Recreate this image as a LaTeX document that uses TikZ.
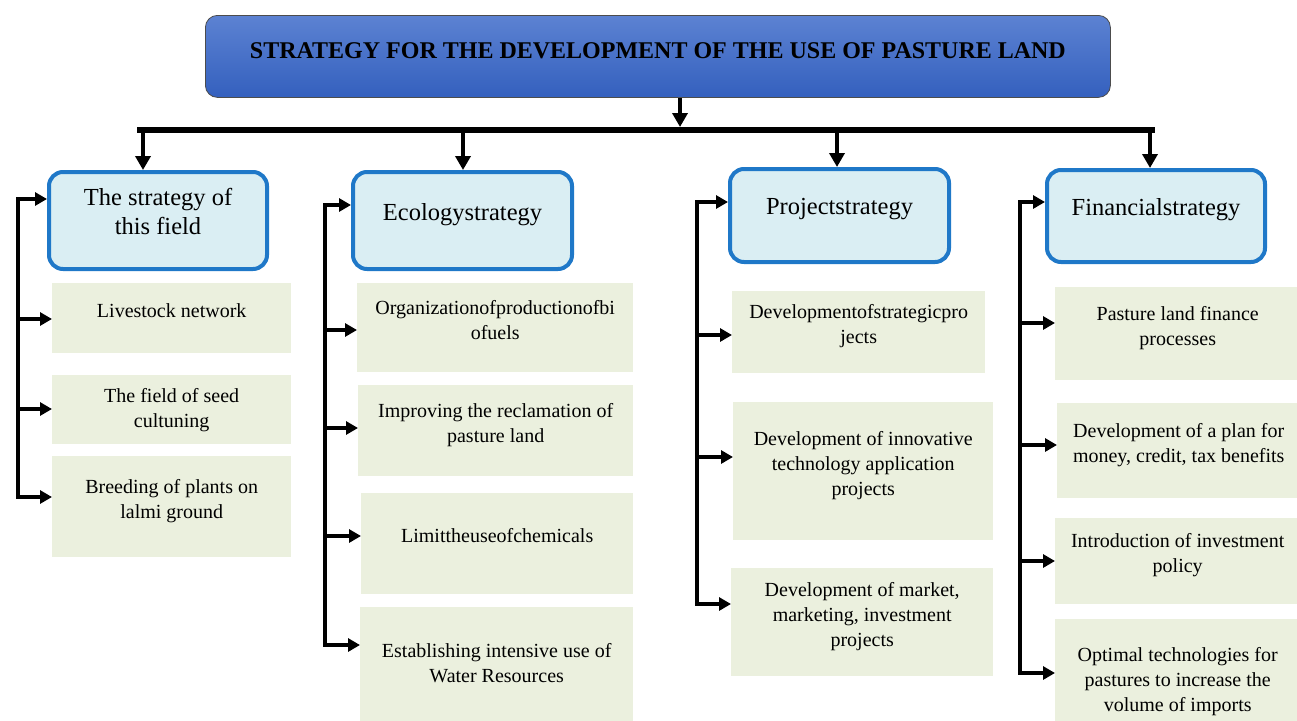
\documentclass[tikz,border=0pt]{standalone}
\usepackage{fontspec}
\setmainfont{Liberation Serif}
\usetikzlibrary{arrows.meta}
\definecolor{catblue}{RGB}{31,120,200}
\definecolor{catfill}{RGB}{218,238,243}
\definecolor{itemfill}{RGB}{235,240,222}
\definecolor{topA}{RGB}{92,130,210}
\definecolor{topB}{RGB}{52,96,190}
\def\tdp{16pt}
\begin{document}
\begin{tikzpicture}[x=1pt,y=-1pt,
 tdepth/.code={\def\tdp{#1}},
 topbox/.style={draw=black!70, line width=0.8pt, rounded corners=12pt, top color=topA, bottom color=topB, minimum width=905pt, minimum height=82pt, anchor=north west, inner sep=0pt, font=\fontsize{24}{28}\selectfont\bfseries, execute at end node={\rule[-12pt]{0pt}{1pt}}},
 catbox/.style={draw=catblue, line width=4pt, rounded corners=14pt, fill=catfill, anchor=north west, inner sep=0pt, align=center, font=\fontsize{24.5}{29}\selectfont, execute at end node={\rule[-18pt]{0pt}{1pt}}},
 itembox/.style={fill=itemfill, anchor=north west, inner sep=0pt, align=center, font=\fontsize{20}{25}\selectfont, execute at end node={\rule[-\tdp]{0pt}{1pt}}},
 link/.style={line width=3.5pt, line cap=rect},
 sarr/.style={line width=3.5pt, -{Triangle[length=12pt,width=13pt]}},
 darr/.style={line width=4pt, -{Triangle[length=14pt,width=15pt]}},
 barline/.style={line width=6pt}]
\useasboundingbox (0,0) rectangle (1297,720);

% title
\node[topbox] (top) at (205,15) {STRATEGY FOR THE DEVELOPMENT OF THE USE OF PASTURE LAND};

% categories
\node[catbox, minimum width=218pt, minimum height=97pt] (c1) at (47,170) {The strategy of\\this field};
\node[catbox, minimum width=219pt, minimum height=97pt] (c2) at (351,170) {Ecologystrategy};
\node[catbox, minimum width=219pt, minimum height=93pt] (c3) at (728,167) {Projectstrategy};
\node[catbox, minimum width=218pt, minimum height=92pt] (c4) at (1045,168) {Financialstrategy};

% items column 1
\node[itembox, minimum width=239pt, minimum height=70pt] (a1) at (52,283) {Livestock network};
\node[itembox, tdepth=4pt, minimum width=239pt, minimum height=69pt] (a2) at (52,375) {The field of seed\\cultuning};
\node[itembox, minimum width=239pt, minimum height=101pt] (a3) at (52,456) {Breeding of plants on\\lalmi ground};
% items column 2
\node[itembox, minimum width=276pt, minimum height=89pt] (b1) at (357,283) {Organizationofproductionofbi\\ofuels};
\node[itembox, minimum width=275pt, minimum height=91pt] (b2) at (358,385) {Improving the reclamation of\\pasture land};
\node[itembox, minimum width=272pt, minimum height=101pt] (b3) at (361,493) {Limittheuseofchemicals};
\node[itembox, minimum width=273pt, minimum height=128pt] (b4) at (360,607) {Establishing intensive use of\\Water Resources};
% items column 3
\node[itembox, minimum width=253pt, minimum height=82pt] (d1) at (732,291) {Developmentofstrategicpro\\jects};
\node[itembox, minimum width=260pt, minimum height=138pt] (d2) at (733,402) {Development of innovative\\technology application\\projects};
\node[itembox, minimum width=262pt, minimum height=108pt] (d3) at (731,568) {Development of market,\\marketing, investment\\projects};
% items column 4
\node[itembox, minimum width=245pt, minimum height=93pt] (f1) at (1055,287) {Pasture land finance\\processes};
\node[itembox, minimum width=243pt, minimum height=95pt] (f2) at (1057,403) {Development of a plan for\\money, credit, tax benefits};
\node[itembox, minimum width=245pt, minimum height=86pt] (f3) at (1055,518) {Introduction of investment\\policy};
\node[itembox, minimum width=245pt, minimum height=137pt] (f4) at (1055,619) {Optimal technologies for\\pastures to increase the\\volume of imports};

% top distribution
\coordinate (bL) at (137,130);
\coordinate (bR) at (1155,130);
\coordinate (bM) at (680,127);
\draw[barline] (bL) -- (bR);
\draw[darr] (top.south -| bM) -- (bM);
\coordinate (k1) at (143,130);
\coordinate (k2) at (463,130);
\coordinate (k3) at (837,130);
\coordinate (k4) at (1150,130);
\draw[darr] (k1) -- (k1 |- c1.north);
\draw[darr] (k2) -- (k2 |- c2.north);
\draw[darr] (k3) -- (k3 |- c3.north);
\draw[darr] (k4) -- (k4 |- c4.north);

% column 1 spine
\coordinate (s1t) at (18,199);
\coordinate (s1p) at (18,319);
\coordinate (s1q) at (18,409);
\coordinate (s1b) at (18,497);
\draw[link] (s1t) -- (s1b);
\draw[sarr] (s1t) -- (c1.west |- s1t);
\draw[sarr] (s1p) -- (a1.west |- s1p);
\draw[sarr] (s1q) -- (a2.west |- s1q);
\draw[sarr] (s1b) -- (a3.west |- s1b);

% column 2 spine
\coordinate (s2t) at (325,205);
\coordinate (s2p) at (325,330);
\coordinate (s2q) at (325,428);
\coordinate (s2r) at (325,536);
\coordinate (s2b) at (325,645);
\draw[link] (s2t) -- (s2b);
\draw[sarr] (s2t) -- (c2.west |- s2t);
\draw[sarr] (s2p) -- (b1.west |- s2p);
\draw[sarr] (s2q) -- (b2.west |- s2q);
\draw[sarr] (s2r) -- (b3.west |- s2r);
\draw[sarr] (s2b) -- (b4.west |- s2b);

% column 3 spine
\coordinate (s3t) at (697,202);
\coordinate (s3p) at (697,335);
\coordinate (s3q) at (697,457);
\coordinate (s3b) at (697,604);
\draw[link] (s3t) -- (s3b);
\draw[sarr] (s3t) -- (c3.west |- s3t);
\draw[sarr] (s3p) -- (d1.west |- s3p);
\draw[sarr] (s3q) -- (d2.west |- s3q);
\draw[sarr] (s3b) -- (d3.west |- s3b);

% column 4 spine
\coordinate (s4t) at (1020,202);
\coordinate (s4p) at (1020,323);
\coordinate (s4q) at (1020,445);
\coordinate (s4r) at (1020,561);
\coordinate (s4b) at (1020,673);
\draw[link] (s4t) -- (s4b);
\draw[sarr] (s4t) -- (c4.west |- s4t);
\draw[sarr] (s4p) -- (f1.west |- s4p);
\draw[sarr] (s4q) -- (f2.west |- s4q);
\draw[sarr] (s4r) -- (f3.west |- s4r);
\draw[sarr] (s4b) -- (f4.west |- s4b);
\end{tikzpicture}
\end{document}
